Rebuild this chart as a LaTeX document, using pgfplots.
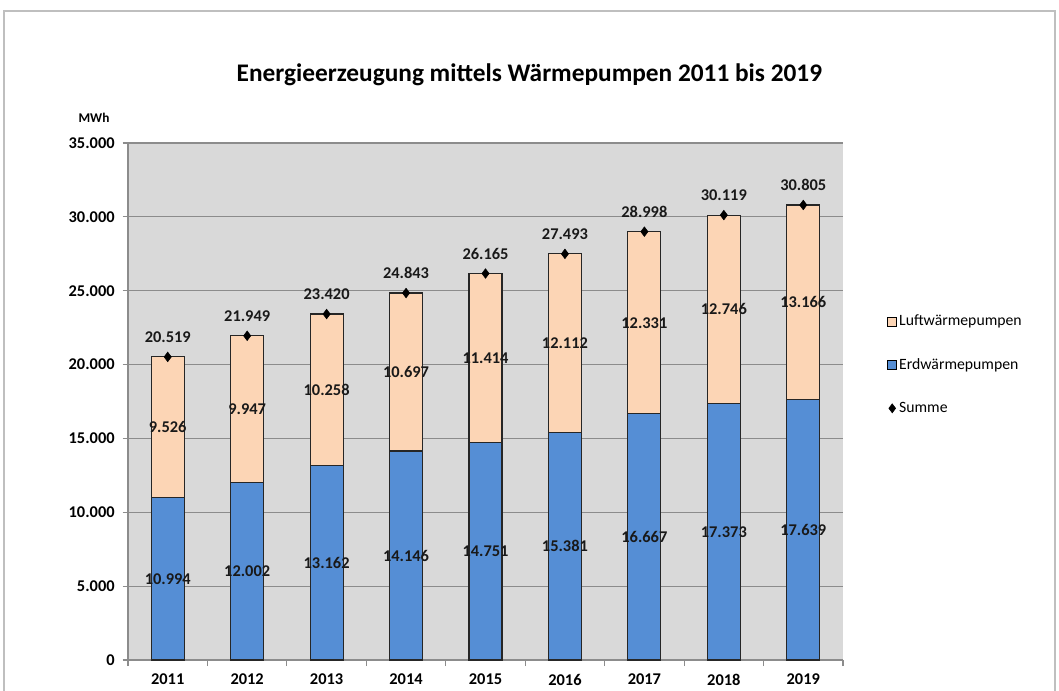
\documentclass[border=0pt]{standalone}
\usepackage{pgfplots}
\pgfplotsset{compat=1.18}
\usepackage{fontspec}
\setmainfont{Carlito}
\definecolor{erd}{HTML}{558ED5}
\definecolor{luft}{HTML}{FCD5B5}
\definecolor{bg}{HTML}{D9D9D9}
\definecolor{gridc}{HTML}{8C8C8C}
\definecolor{framec}{HTML}{BFBFBF}
\begin{document}
\begin{tikzpicture}[x=1pt,y=1pt]
\path[use as bounding box] (0,0) rectangle (794.25,517.5);
\draw[framec, line width=1.2pt] (3,-20) rectangle (791.25,509.25);
\node[font=\bfseries\fontsize{19}{22}\selectfont] at (397.1,461.25) {Energieerzeugung mittels Wärmepumpen 2011 bis 2019};
\node[font=\bfseries\fontsize{10}{12}\selectfont] at (70.5,429) {MWh};
\begin{axis}[
  at={(96pt,22.5pt)}, anchor=south west,
  width=536.25pt, height=387.75pt, scale only axis,
  ybar stacked, bar width=24.75pt,
  xmin=-0.5, xmax=8.5, ymin=0, ymax=35000,
  xtick={0,...,8},
  xticklabels={2011,2012,2013,2014,2015,2016,2017,2018,2019},
  minor xtick={-0.5,0.5,...,8.5},
  ytick={0,5000,...,35000},
  scaled y ticks=false,
  axis background/.style={fill=bg},
  axis x line*=bottom, axis y line*=left,
  axis line style={gridc, line width=0.8pt},
  ymajorgrids, grid style={gridc, line width=0.8pt},
  tick align=outside,
  major tick length=4pt, minor tick length=4.5pt,
  major x tick style={draw=none},
  minor x tick style={gridc, line width=0.8pt},
  major y tick style={gridc, line width=0.8pt},
  /pgf/number format/.cd, fixed, precision=0, 1000 sep={.}, assume math mode=true,
  /pgfplots/.cd,
  ticklabel style={font=\bfseries\fontsize{12.3}{14}\selectfont, text=black},
  yticklabel style={xshift=-2.5pt},
  xticklabel style={yshift=-3pt},
]
\addplot[fill=erd, draw=black!85, line width=0.9pt] coordinates {(0,10994) (1,12002) (2,13162) (3,14146) (4,14751) (5,15381) (6,16667) (7,17373) (8,17639)};
\addplot[fill=luft, draw=black!85, line width=0.9pt] coordinates {(0,9526) (1,9947) (2,10258) (3,10697) (4,11414) (5,12112) (6,12331) (7,12746) (8,13166)};
\end{axis}
\begin{axis}[
  at={(96pt,22.5pt)}, anchor=south west,
  width=536.25pt, height=387.75pt, scale only axis,
  xmin=-0.5, xmax=8.5, ymin=0, ymax=35000,
  hide axis, clip=false,
  /pgf/number format/.cd, fixed, precision=0, 1000 sep={.}, assume math mode=true,
  /pgfplots/.cd,
  legend style={at={(1.056,0.571)}, anchor=west, draw=none, fill=none,
    font=\fontsize{11.8}{13}\selectfont, row sep=20pt,
    nodes={inner sep=1.5pt}},
  legend cell align=left,
]
\addlegendimage{legend image code/.code={\draw[fill=luft, draw=black, line width=0.6pt] (0pt,-3.4pt) rectangle (6.8pt,3.4pt);}}
\addlegendentry{Luftwärmepumpen}
\addlegendimage{legend image code/.code={\draw[fill=erd, draw=black, line width=0.6pt] (0pt,-3.4pt) rectangle (6.8pt,3.4pt);}}
\addlegendentry{Erdwärmepumpen}
\addplot[only marks, mark=diamond*, mark size=3.6pt, black,
  legend image code/.code={\draw[mark=diamond*, mark size=3.4pt, black] plot coordinates {(3.4pt,0pt)};},
  nodes near coords, point meta=y,
  every node near coord/.append style={font=\bfseries\fontsize{12.3}{14}\selectfont, text=black!90, anchor=south, inner sep=0pt, yshift=10.5pt}]
  coordinates {(0,20519) (1,21949) (2,23420) (3,24843) (4,26165) (5,27493) (6,28998) (7,30119) (8,30805)};
\addlegendentry{Summe}
% value labels centred in the bar segments
\addplot[only marks, mark=*, mark size=0pt, mark options={draw=none, fill=none},
  forget plot,
  nodes near coords, point meta=explicit symbolic,
  every node near coord/.append style={font=\bfseries\fontsize{12.3}{14}\selectfont, text=black!90, anchor=center, inner sep=0pt}]
  coordinates {(0,5497)[10.994] (1,6001)[12.002] (2,6581)[13.162] (3,7073)[14.146] (4,7376)[14.751] (5,7691)[15.381] (6,8334)[16.667] (7,8687)[17.373] (8,8820)[17.639]};
\addplot[only marks, mark=*, mark size=0pt, mark options={draw=none, fill=none},
  forget plot,
  nodes near coords, point meta=explicit symbolic,
  every node near coord/.append style={font=\bfseries\fontsize{12.3}{14}\selectfont, text=black!90, anchor=center, inner sep=0pt}]
  coordinates {(0,15757)[9.526] (1,16976)[9.947] (2,18291)[10.258] (3,19495)[10.697] (4,20458)[11.414] (5,21437)[12.112] (6,22833)[12.331] (7,23746)[12.746] (8,24222)[13.166]};
\end{axis}
\end{tikzpicture}
\end{document}
